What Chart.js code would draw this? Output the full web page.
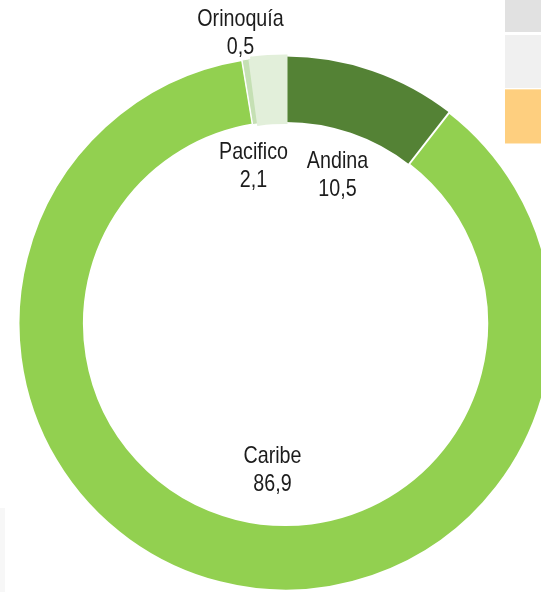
<!DOCTYPE html>
<html lang="es">
<head>
<meta charset="utf-8">
<title>Regiones</title>
<script src="https://cdn.jsdelivr.net/npm/chart.js@4.4.1/dist/chart.umd.min.js"></script>
<style>
  body { margin: 0; background: #fff; }
  #wrap { position: relative; width: 541px; height: 592px; overflow: hidden; }
  #regiones { position: absolute; left: 0; top: 0; }
  .tab { position: absolute; left: 505px; width: 36px; }
</style>
</head>
<body>
<div id="wrap">
  <canvas id="regiones" width="541" height="592"></canvas>
  <!-- bloques del panel lateral -->
  <div class="tab" style="top:0; height:32px; background:#e1e1e1;"></div>
  <div class="tab" style="top:35px; height:53px; background:#f0f0f0;"></div>
  <div class="tab" style="top:89px; height:53px; background:#fecf7f; border-top:1px solid #ffe0a8; border-bottom:1px solid #ffe8c0;"></div>
  <div style="position:absolute; left:0; top:508px; width:5px; height:84px; background:#f7f7f7;"></div>
</div>
<script>
// participación por región (%)
const regiones = ['Andina', 'Caribe', 'Orinoquía', 'Pacifico'];
const participacion = [10.5, 86.9, 0.5, 2.1];
const colores = ['#548235', '#92d050', '#c5e0b4', '#e2efda'];

// ubicación de cada etiqueta respecto al centro del anillo (línea base de la 1a línea)
const etiquetaDx = [52, -13, -45, -32];
const etiquetaDy = [-156, 139, -298, -165];

const fmt = v => v.toLocaleString('es-CO', { minimumFractionDigits: 1, maximumFractionDigits: 1 });

// dibuja nombre y valor de cada región, letra angosta tipo Arial Narrow
const etiquetas = {
  id: 'etiquetas',
  afterDraw(chart) {
    const ctx = chart.ctx;
    const meta = chart.getDatasetMeta(0);
    ctx.save();
    ctx.font = '24px "Liberation Sans", Arial, sans-serif';
    ctx.fillStyle = '#1c1c1c';
    ctx.textAlign = 'center';
    ctx.textBaseline = 'alphabetic';
    meta.data.forEach((arc, i) => {
      const x = arc.x + etiquetaDx[i];
      const y = arc.y + etiquetaDy[i];
      [regiones[i], fmt(participacion[i])].forEach((linea, j) => {
        ctx.save();
        ctx.translate(x, y + j * 28);
        ctx.scale(0.82, 1);
        ctx.fillText(linea, 0, 0);
        ctx.restore();
      });
    });
    ctx.restore();
  }
};

new Chart(document.getElementById('regiones'), {
  type: 'doughnut',
  data: {
    labels: regiones,
    datasets: [{
      data: participacion,
      backgroundColor: colores,
      borderColor: ['#ffffff', '#ffffff', '#ffffff', colores[3]],
      borderWidth: [0, 2, 1, 4],
      borderJoinStyle: 'miter',
      radius: 267,
      clip: false
    }]
  },
  options: {
    responsive: false,
    animation: false,
    events: [],
    cutout: '75.5%',
    layout: { padding: { left: 30, top: 55, right: 0, bottom: 0 } },
    plugins: {
      legend: { display: false },
      tooltip: { enabled: false }
    }
  },
  plugins: [etiquetas]
});
</script>
</body>
</html>
